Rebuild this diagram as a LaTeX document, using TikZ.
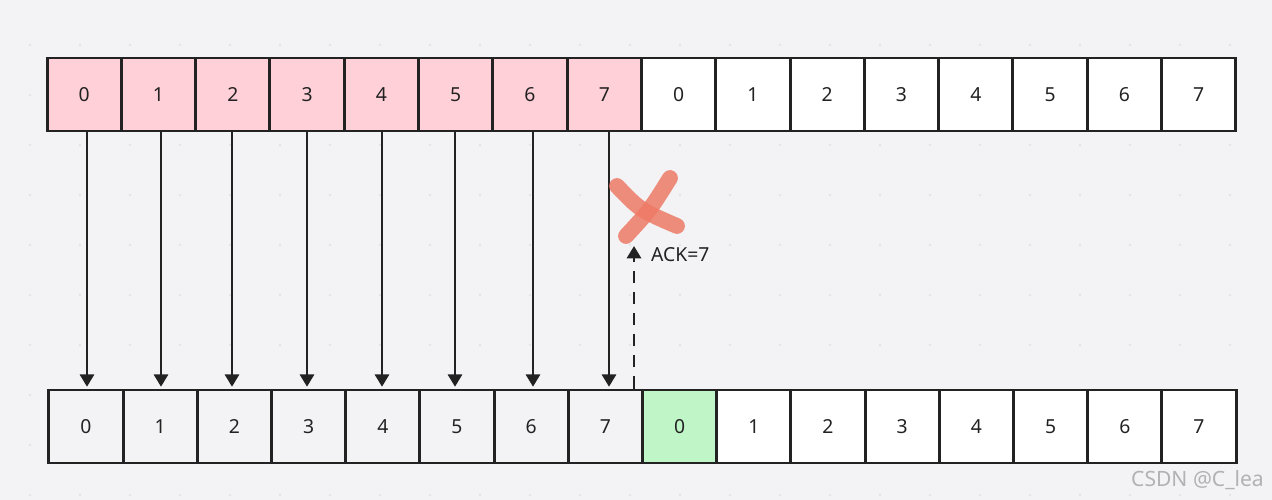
\documentclass[tikz,border=0pt]{standalone}
\usepackage{fontspec}
\setmainfont{Noto Sans}
\usetikzlibrary{arrows.meta}
\definecolor{bg}{HTML}{F3F3F5}
\definecolor{sent}{HTML}{FFD0D8}
\definecolor{nextc}{HTML}{C0F5C8}
\definecolor{edge}{HTML}{222222}
\definecolor{cross}{HTML}{EE7A66}
\tikzset{
  cell/.style={draw=edge, line width=1.7pt, minimum width=74.3*0.02cm, minimum height=73*0.02cm, inner sep=0pt, font=\fontsize{11}{13}\selectfont, text=edge},
  flow/.style={-{Triangle[length=7pt,width=8pt]}, line width=1.5pt, edge}
}
\begin{document}
\begin{tikzpicture}[x=0.02cm, y=-0.02cm]
  \fill[bg] (0,0) rectangle (1272,500);
  \useasboundingbox (0,0) rectangle (1272,500);
  % dot grid
  \foreach \i in {0,...,25} \foreach \j in {0,...,9}
    \fill[black!12] (30+\i*50, 45+\j*50) circle (0.6pt);
  % sender and receiver rows
  \foreach \k in {0,...,15} {
    \pgfmathtruncatemacro{\n}{mod(\k,8)}
    \ifnum\k<8 \def\col{sent}\else\def\col{white}\fi
    \node[cell, fill=\col] (s\k) at (84.2+\k*74.3, 94.5) {\n};
    \ifnum\k<8 \def\col{bg}\else\def\col{white}\fi
    \ifnum\k=8 \def\col{nextc}\fi
    \node[cell, fill=\col] (r\k) at (86+\k*74.2, 426.5) {\n};
  }
  % data packets
  \foreach \k/\x in {0/87,1/161,2/232,3/307,4/382,5/455,6/533,7/609} {
    \coordinate (c\k) at (\x,0);
    \draw[flow] (s\k.south -| c\k) -- ([yshift=1pt]r\k.north -| c\k);
  }
  % lost ack
  \coordinate (ackx) at (634,0);
  \coordinate (acktip) at (634,246);
  \draw[-{Triangle[length=7pt,width=8pt]}, line width=1.6pt, dash pattern=on 7pt off 5pt, edge] (r7.north -| ackx) -- (acktip);
  \node[anchor=west, font=\fontsize{11}{13}\selectfont, text=edge] (ack) at (645,255) {ACK=7};
  \draw[cross, opacity=0.85, line width=9pt, line cap=round] (617,186) .. controls (640,210) .. (677,226);
  \draw[cross, opacity=0.85, line width=9pt, line cap=round] (670,178) .. controls (650,210) .. (626,236);
  \node[anchor=east, text=black!30, font=\fontsize{12}{14}\selectfont] (mark) at (1270,480) {CSDN @C\_lea};
\end{tikzpicture}
\end{document}
